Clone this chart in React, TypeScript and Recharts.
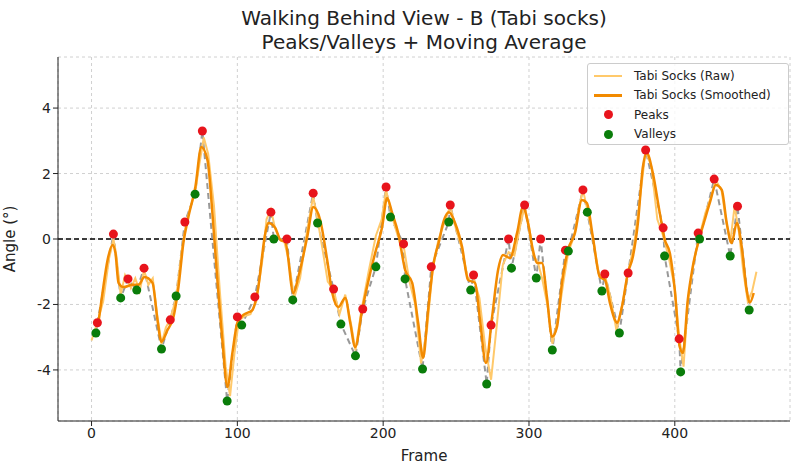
import React from 'react'
import {
  ComposedChart, Line, Scatter, XAxis, YAxis, CartesianGrid, ReferenceLine, Label,
} from 'recharts'

document.body.style.margin = '0'

// smoothed (moving average) trace
const smoothFrames = [
  4.8, 7.5, 11, 14.4, 16.4, 18.5, 21.9, 28.1, 32.2, 36.3, 41.8, 45.2, 47.9, 52.1, 56.2, 59.6, 63, 66.4, 71.2, 75.3,
  79.5, 82.9, 86.3, 89.7, 93.2, 96.6, 100, 104.1, 110.3, 113.7, 119.2, 121.2, 126, 129.5, 132.9, 138.4, 141.8, 147.9, 152.1, 156.8,
  161.6, 165.1, 169.2, 174, 177.4, 180.8, 185.6, 191.1, 194.5, 199.3, 202.7, 206.2, 210.3, 215.1, 219.9, 224, 227.4, 230.8, 234.2, 239,
  240.4, 245.2, 249.3, 254.1, 258.2, 263, 266.4, 270.5, 274.7, 278.8, 282.2, 287, 291.8, 295.9, 299.3, 302.7, 305.5, 308.9, 312.3, 315.8,
  319.2, 322.6, 326.7, 331.5, 336.3, 339.7, 343.8, 348.6, 352.1, 355.5, 358.9, 360.3, 363.7, 367.8, 371.2, 374.7, 378.1, 380.8, 384.9, 389.7,
  393.2, 396.6, 400, 403.4, 405.5, 408.9, 412.3, 417.1, 420.5, 424, 428.1, 432.2, 435.6, 439, 442.5, 445.9, 449.3, 451.4, 454.1,
]
const smoothValues = [
  -2.53, -1.65, -0.64, -0.18, -0.43, -1.34, -1.47, -1.4, -1.4, -1.16, -1.34, -2.47, -3.14, -2.78, -2.38, -1.47, -0.12, 0.67, 1.59, 2.81,
  2.41, 0.79, -1.25, -3.08, -4.52, -3.48, -2.56, -2.32, -2.17, -1.65, 0.18, 0.49, 0.34, -0.03, -0.09, -1.65, -1.16, 0.06, 0.98, 0.58,
  -0.64, -1.65, -2.08, -1.8, -2.56, -3.3, -2.17, -1.04, -0.43, 0.37, 1.25, 0.79, 0.18, -0.95, -1.34, -2.56, -3.63, -2.17, -0.85, 0.06,
  0.37, 0.82, 0.49, -0.24, -1.25, -1.34, -2.47, -3.79, -2.38, -0.95, -0.49, -0.58, 0.18, 0.98, 0.49, -0.34, -0.73, -0.73, -1.77, -2.99,
  -2.69, -1.34, -0.34, 0.18, 1.19, 1.1, 0.06, -1.16, -1.25, -1.95, -2.47, -2.56, -2.08, -1.04, -0.55, 0.49, 2.2, 2.63, 2.02, 0.79,
  -0.03, -0.43, -1.56, -3.3, -3.48, -1.86, -0.85, 0.06, 0.58, 1.1, 1.65, 1.5, 0.49, -0.12, 0.49, -0.24, -1.56, -1.95, -1.65,
]

// raw trace
const rawFrames = [
  0, 4, 8, 12, 15, 17, 20, 23, 25, 27, 30, 33, 36, 39, 42, 45, 48, 51, 54, 58,
  62, 65, 68, 71, 74, 77, 80, 84, 88, 92, 95, 98, 101, 105, 109, 113, 117, 120, 123, 126,
  129, 132, 135, 139, 143, 148, 152, 155, 158, 162, 166, 170, 174, 178, 181, 185, 190, 195, 199, 202,
  206, 210, 214, 218, 222, 226, 230, 234, 238, 242, 246, 250, 254, 258, 262, 266, 270, 274, 278, 282,
  286, 290, 294, 297, 300, 303, 306, 309, 313, 316, 320, 324, 327, 331, 334, 337, 340, 344, 348, 352,
  356, 360, 364, 368, 372, 376, 380, 384, 388, 392, 396, 400, 403, 406, 409, 413, 417, 421, 425, 428,
  432, 435, 438, 441, 444, 447, 450, 453, 456,
]
const rawValues = [
  -3.1, -2.55, -1.9, -0.6, 0.0, -0.5, -1.7, -1.1, -1.25, -1.5, -1.2, -1.6, -0.95, -1.4, -1.2, -2.3, -3.2, -2.7, -2.45, -1.8,
  -0.3, 0.5, 1.0, 1.4, 2.3, 3.1, 2.6, 1.0, -1.6, -3.9, -4.8, -3.5, -2.5, -2.35, -2.3, -1.9, -0.7, 0.6, 0.9, 0.3,
  0.0, -0.05, -0.6, -1.8, -1.2, 0.3, 1.3, 0.6, -0.2, -1.3, -1.55, -2.3, -1.7, -2.6, -3.4, -2.2, -1.0, 0.1, 0.6, 1.5,
  0.7, 0.1, -0.2, -1.3, -2.0, -3.8, -2.8, -0.9, 0.0, 0.5, 1.0, 0.3, -0.3, -1.2, -1.2, -1.8, -3.3, -4.3, -2.6, -0.8,
  -0.4, -0.5, 0.4, 1.0, 0.4, -0.5, -0.7, -1.2, -2.1, -3.2, -2.4, -1.2, -0.4, 0.1, 0.9, 1.5, 0.9, 0.0, -1.1, -1.1,
  -1.8, -2.8, -2.0, -1.0, -0.2, 1.2, 2.7, 2.2, 0.6, 0.1, -0.6, -1.5, -3.0, -3.9, -1.9, -0.7, 0.1, 0.8, 1.3, 1.8,
  1.5, 0.6, -0.1, 1.0, 0.2, -1.0, -1.9, -1.6, -1.0,
]

const peakFrames = [4, 15, 25, 36, 54, 64, 76, 100, 112, 123, 134, 152, 166, 186, 202, 214, 233, 246, 262, 274, 286, 297, 308, 325, 337, 352, 368, 380, 392, 403, 416, 427, 443]
const peakValues = [-2.56, 0.15, -1.22, -0.89, -2.47, 0.52, 3.3, -2.38, -1.77, 0.82, 0.0, 1.4, -1.53, -2.14, 1.59, -0.15, -0.85, 1.04, -1.1, -2.63, 0.0, 1.04, 0.0, -0.34, 1.5, -1.07, -1.04, 2.72, 0.34, -3.05, 0.18, 1.83, 1.0]

const valleyFrames = [3, 20, 31, 48, 58, 71, 93, 103, 125, 138, 155, 171, 181, 195, 205, 215, 227, 245, 260, 271, 288, 305, 316, 327, 340, 350, 362, 393, 404, 417, 438, 451]
const valleyValues = [-2.87, -1.8, -1.56, -3.36, -1.74, 1.37, -4.95, -2.63, 0.0, -1.86, 0.49, -2.6, -3.57, -0.85, 0.67, -1.22, -3.97, 0.52, -1.56, -4.43, -0.89, -1.19, -3.39, -0.37, 0.82, -1.59, -2.87, -0.52, -4.06, 0.0, -0.52, -2.17]

const xTicks = [0, 100, 200, 300, 400]
const yTicks = [-4, -2, 0, 2, 4]

const rawData = rawFrames.map((x, i) => ({ x, y: rawValues[i] }))
const smoothData = smoothFrames.map((x, i) => ({ x, y: smoothValues[i] }))
const peaks = peakFrames.map((x, i) => ({ x, y: peakValues[i] }))
const valleys = valleyFrames.map((x, i) => ({ x, y: valleyValues[i] }))
const extrema = [...peaks, ...valleys].sort((a, b) => a.x - b.x)

const font = 'DejaVu Sans, sans-serif'

const Dot = (color: string) => (props: any) => (
  <circle cx={props.cx} cy={props.cy} r={4.5} fill={color} />
)

function LegendBox() {
  const row = { display: 'flex', alignItems: 'center', height: 19.5, whiteSpace: 'nowrap' as const }
  const sw = { width: 28, marginRight: 12, display: 'flex', justifyContent: 'center' }
  return (
    <div style={{
      position: 'absolute', left: 587, top: 63, width: 202, height: 82, boxSizing: 'border-box',
      border: '1px solid #ccc', borderRadius: 3, background: 'rgba(255,255,255,0.8)',
      fontFamily: font, fontSize: 12, color: '#222', padding: '2px 6px',
    }}>
      <div style={row}><div style={sw}><div style={{ width: 28, height: 2, background: '#ffc96b' }} /></div>Tabi Socks (Raw)</div>
      <div style={row}><div style={sw}><div style={{ width: 28, height: 2.5, background: '#f28a00' }} /></div>Tabi Socks (Smoothed)</div>
      <div style={row}><div style={sw}><div style={{ width: 9, height: 9, borderRadius: 5, background: '#e8141c' }} /></div>Peaks</div>
      <div style={row}><div style={sw}><div style={{ width: 9, height: 9, borderRadius: 5, background: '#0a7d0a' }} /></div>Valleys</div>
    </div>
  )
}

export default function App() {
  return (
    <div style={{ position: 'relative', width: 800, height: 471, background: '#fff' }}>
      <div style={{
        position: 'absolute', left: 58, width: 732, top: 6, textAlign: 'center',
        fontFamily: font, fontSize: 20, lineHeight: '24px', color: '#222',
      }}>
        Walking Behind View - B (Tabi socks)<br />Peaks/Valleys + Moving Average
      </div>
      <ComposedChart width={800} height={471} margin={{ top: 57, right: 10, bottom: 0, left: 0 }}>
        <CartesianGrid stroke="#d0d0d0" strokeDasharray="3 3" />
        <XAxis
          type="number" dataKey="x" domain={[-23, 479]} ticks={xTicks} height={50}
          tick={{ fontSize: 14, fill: '#222', fontFamily: font }} stroke="#222" tickSize={5}
        >
          <Label value="Frame" position="insideBottom" offset={10} style={{ fontSize: 15, fill: '#222', fontFamily: font }} />
        </XAxis>
        <YAxis
          type="number" dataKey="y" domain={[-5.56, 5.56]} ticks={yTicks} width={58}
          tick={{ fontSize: 14, fill: '#222', fontFamily: font }} stroke="#222" tickSize={5}
        >
          <Label value="Angle (°)" angle={-90} position="insideLeft" offset={10} style={{ fontSize: 15, fill: '#222', fontFamily: font, textAnchor: 'middle' }} />
        </YAxis>
        <ReferenceLine y={0} stroke="#000" strokeDasharray="5 3" strokeWidth={1.3} />
        <Line data={extrema} dataKey="y" type="linear" stroke="#999" strokeWidth={2} strokeDasharray="6 4" dot={false} isAnimationActive={false} />
        <Line data={rawData} dataKey="y" type="linear" stroke="#ffc96b" strokeWidth={2} dot={false} isAnimationActive={false} />
        <Line data={smoothData} dataKey="y" type="monotone" stroke="#f28a00" strokeWidth={2.5} dot={false} isAnimationActive={false} />
        <Scatter data={peaks} dataKey="y" shape={Dot('#e8141c')} isAnimationActive={false} />
        <Scatter data={valleys} dataKey="y" shape={Dot('#0a7d0a')} isAnimationActive={false} />
      </ComposedChart>
      <LegendBox />
    </div>
  )
}
